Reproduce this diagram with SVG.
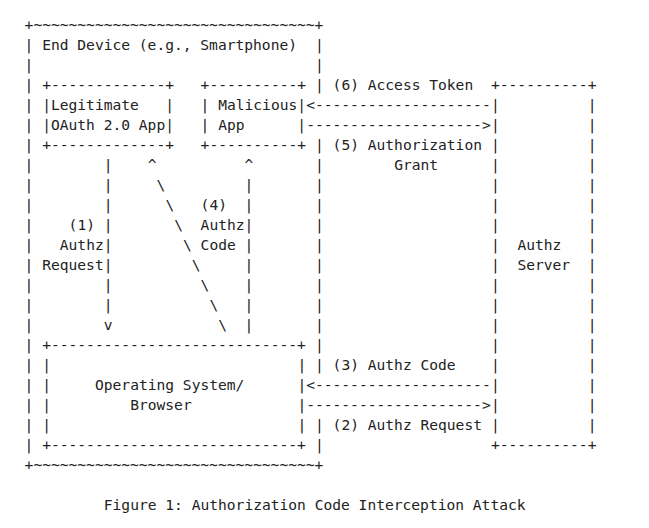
<svg xmlns="http://www.w3.org/2000/svg" width="649" height="528" viewBox="0 0 649 528" xml:space="preserve">
<style>
text{font-family:"DejaVu Sans Mono","Liberation Mono",monospace;font-size:14.6px;fill:#222;white-space:pre}
</style>
<rect width="649" height="528" fill="#fff"/>
<g id="end-device">
<text x="24.6" y="30">+~~~~~~~~~~~~~~~~~~~~~~~~~~~~~~~~+</text>
<text x="24.6" y="470">+~~~~~~~~~~~~~~~~~~~~~~~~~~~~~~~~+</text>
<text x="42.2" y="50">End Device (e.g., Smartphone)</text>
<text><tspan x="24.6" y="50">|</tspan><tspan x="24.6" y="70">|</tspan><tspan x="24.6" y="90">|</tspan><tspan x="24.6" y="110">|</tspan><tspan x="24.6" y="130">|</tspan><tspan x="24.6" y="150">|</tspan><tspan x="24.6" y="170">|</tspan><tspan x="24.6" y="190">|</tspan><tspan x="24.6" y="210">|</tspan><tspan x="24.6" y="230">|</tspan><tspan x="24.6" y="250">|</tspan><tspan x="24.6" y="270">|</tspan><tspan x="24.6" y="290">|</tspan><tspan x="24.6" y="310">|</tspan><tspan x="24.6" y="330">|</tspan><tspan x="24.6" y="350">|</tspan><tspan x="24.6" y="370">|</tspan><tspan x="24.6" y="390">|</tspan><tspan x="24.6" y="410">|</tspan><tspan x="24.6" y="430">|</tspan><tspan x="24.6" y="450">|</tspan></text>
<text><tspan x="315" y="50">|</tspan><tspan x="315" y="70">|</tspan><tspan x="315" y="90">|</tspan><tspan x="315" y="150">|</tspan><tspan x="315" y="170">|</tspan><tspan x="315" y="190">|</tspan><tspan x="315" y="210">|</tspan><tspan x="315" y="230">|</tspan><tspan x="315" y="250">|</tspan><tspan x="315" y="270">|</tspan><tspan x="315" y="290">|</tspan><tspan x="315" y="310">|</tspan><tspan x="315" y="330">|</tspan><tspan x="315" y="350">|</tspan><tspan x="315" y="370">|</tspan><tspan x="315" y="430">|</tspan><tspan x="315" y="450">|</tspan></text>
</g>
<g id="legitimate-app">
<text x="42.2" y="90">+-------------+</text>
<text x="42.2" y="110">|Legitimate   |</text>
<text x="42.2" y="130">|OAuth 2.0 App|</text>
<text x="42.2" y="150">+-------------+</text>
</g>
<g id="malicious-app">
<text x="200.6" y="90">+----------+</text>
<text x="200.6" y="110">| Malicious|</text>
<text x="200.6" y="130">| App      |</text>
<text x="200.6" y="150">+----------+</text>
</g>
<g id="os-browser">
<text x="42.2" y="350">+----------------------------+</text>
<text x="42.2" y="450">+----------------------------+</text>
<text><tspan x="42.2" y="370">|</tspan><tspan x="42.2" y="390">|</tspan><tspan x="42.2" y="410">|</tspan><tspan x="42.2" y="430">|</tspan></text>
<text><tspan x="297.4" y="370">|</tspan><tspan x="297.4" y="390">|</tspan><tspan x="297.4" y="410">|</tspan><tspan x="297.4" y="430">|</tspan></text>
<text x="95" y="390">Operating System/</text>
<text x="130.2" y="410">Browser</text>
</g>
<g id="authz-server">
<text x="491" y="90">+----------+</text>
<text x="491" y="450">+----------+</text>
<text><tspan x="491" y="110">|</tspan><tspan x="491" y="130">|</tspan><tspan x="491" y="150">|</tspan><tspan x="491" y="170">|</tspan><tspan x="491" y="190">|</tspan><tspan x="491" y="210">|</tspan><tspan x="491" y="230">|</tspan><tspan x="491" y="250">|</tspan><tspan x="491" y="270">|</tspan><tspan x="491" y="290">|</tspan><tspan x="491" y="310">|</tspan><tspan x="491" y="330">|</tspan><tspan x="491" y="350">|</tspan><tspan x="491" y="370">|</tspan><tspan x="491" y="390">|</tspan><tspan x="491" y="410">|</tspan><tspan x="491" y="430">|</tspan></text>
<text><tspan x="587.8" y="110">|</tspan><tspan x="587.8" y="130">|</tspan><tspan x="587.8" y="150">|</tspan><tspan x="587.8" y="170">|</tspan><tspan x="587.8" y="190">|</tspan><tspan x="587.8" y="210">|</tspan><tspan x="587.8" y="230">|</tspan><tspan x="587.8" y="250">|</tspan><tspan x="587.8" y="270">|</tspan><tspan x="587.8" y="290">|</tspan><tspan x="587.8" y="310">|</tspan><tspan x="587.8" y="330">|</tspan><tspan x="587.8" y="350">|</tspan><tspan x="587.8" y="370">|</tspan><tspan x="587.8" y="390">|</tspan><tspan x="587.8" y="410">|</tspan><tspan x="587.8" y="430">|</tspan></text>
<text x="517.4" y="250">Authz</text>
<text x="517.4" y="270">Server</text>
</g>
<g id="connectors">
<text x="306.2" y="110">&lt;--------------------</text>
<text x="306.2" y="130">--------------------&gt;</text>
<text x="306.2" y="390">&lt;--------------------</text>
<text x="306.2" y="410">--------------------&gt;</text>
<text><tspan x="103.8" y="170">|</tspan><tspan x="103.8" y="190">|</tspan><tspan x="103.8" y="210">|</tspan><tspan x="103.8" y="230">|</tspan><tspan x="103.8" y="250">|</tspan><tspan x="103.8" y="270">|</tspan><tspan x="103.8" y="290">|</tspan><tspan x="103.8" y="310">|</tspan><tspan x="103.8" y="330">v</tspan></text>
<text><tspan x="147.8" y="170">^</tspan><tspan x="156.6" y="190">\</tspan><tspan x="165.4" y="210">\</tspan><tspan x="174.2" y="230">\</tspan><tspan x="183" y="250">\</tspan><tspan x="191.8" y="270">\</tspan><tspan x="200.6" y="290">\</tspan><tspan x="209.4" y="310">\</tspan><tspan x="218.2" y="330">\</tspan></text>
<text><tspan x="244.6" y="170">^</tspan><tspan x="244.6" y="190">|</tspan><tspan x="244.6" y="210">|</tspan><tspan x="244.6" y="230">|</tspan><tspan x="244.6" y="250">|</tspan><tspan x="244.6" y="270">|</tspan><tspan x="244.6" y="290">|</tspan><tspan x="244.6" y="310">|</tspan><tspan x="244.6" y="330">|</tspan></text>
<text x="332.6" y="90">(6) Access Token</text>
<text x="332.6" y="150">(5) Authorization</text>
<text x="394.2" y="170">Grant</text>
<text x="200.6" y="210">(4)</text>
<text x="200.6" y="230">Authz</text>
<text x="200.6" y="250">Code</text>
<text x="68.6" y="230">(1)</text>
<text x="59.8" y="250">Authz</text>
<text x="42.2" y="270">Request</text>
<text x="332.6" y="370">(3) Authz Code</text>
<text x="332.6" y="430">(2) Authz Request</text>
</g>
<g id="caption">
<text x="103.8" y="510">Figure 1: Authorization Code Interception Attack</text>
</g>
</svg>
